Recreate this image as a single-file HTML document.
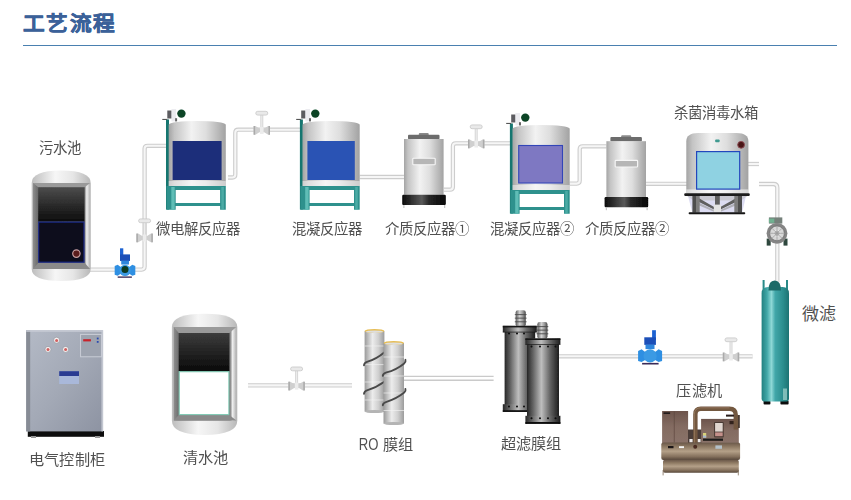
<!DOCTYPE html>
<html lang="zh-CN">
<head>
<meta charset="utf-8">
<title>工艺流程</title>
<style>
html,body{margin:0;padding:0;background:#fff;}
body{width:851px;height:500px;position:relative;overflow:hidden;font-family:"Liberation Sans",sans-serif;}
#title{position:absolute;left:23.4px;top:7.6px;font-size:21.6px;font-weight:bold;color:#3b6199;-webkit-text-stroke:0.55px #3b6199;line-height:32px;white-space:nowrap;letter-spacing:1.1px;transform:scaleY(0.93);transform-origin:0 27px;}
#rule{position:absolute;left:23px;top:44.6px;width:814px;height:1.5px;background:#4a80b0;}
.lb{position:absolute;font-size:14.4px;color:#505050;line-height:18px;white-space:nowrap;transform:translateX(-50%);text-align:center;}
.b2{font-size:15.2px;letter-spacing:0.3px;}
.ro{display:inline-block;font-size:16.4px;letter-spacing:0;transform:scaleX(0.8);transform-origin:0 50%;width:19.4px;margin-right:0px;}
svg{position:absolute;left:0;top:0;}
</style>
</head>
<body>
<div id="title">工艺流程</div>
<div id="rule"></div>
<svg id="art" width="851" height="500" viewBox="0 0 851 500">
<defs>
<linearGradient id="metal" x1="0" x2="1" y1="0" y2="0">
<stop offset="0" stop-color="#9c9c9c"/><stop offset="0.12" stop-color="#c9c9c9"/><stop offset="0.42" stop-color="#f4f4f4"/><stop offset="0.62" stop-color="#e2e2e2"/><stop offset="1" stop-color="#9a9a9a"/>
</linearGradient>
<linearGradient id="blk" x1="0" x2="0" y1="0" y2="1">
<stop offset="0" stop-color="#4c4c4c"/><stop offset="1" stop-color="#0c0c0c"/>
</linearGradient>
<filter id="soft" x="-5%" y="-5%" width="110%" height="110%"><feGaussianBlur stdDeviation="0.45"/></filter>

<linearGradient id="metalV" x1="0" x2="1" y1="0" y2="0">
<stop offset="0" stop-color="#a4a4a4"/><stop offset="0.1" stop-color="#c4c4c4"/><stop offset="0.4" stop-color="#f2f2f2"/><stop offset="0.65" stop-color="#dedede"/><stop offset="1" stop-color="#a2a2a2"/>
</linearGradient>
<linearGradient id="domeG" x1="0" x2="1" y1="0" y2="0">
<stop offset="0" stop-color="#bdbdbd"/><stop offset="0.4" stop-color="#f6f6f6"/><stop offset="0.7" stop-color="#e6e6e6"/><stop offset="1" stop-color="#b8b8b8"/>
</linearGradient>
<linearGradient id="frameG" x1="0" x2="1" y1="0" y2="0">
<stop offset="0" stop-color="#8e8e8e"/><stop offset="0.08" stop-color="#6e6e6e"/><stop offset="0.9" stop-color="#7a7a7a"/><stop offset="0.94" stop-color="#f0f0f0"/><stop offset="1" stop-color="#b0b0b0"/>
</linearGradient>
<linearGradient id="blk2" x1="0" x2="0" y1="0" y2="1">
<stop offset="0" stop-color="#3c3c3c"/><stop offset="1" stop-color="#0a0a0a"/>
</linearGradient>
<linearGradient id="baseBlk" x1="0" x2="1" y1="0" y2="0">
<stop offset="0" stop-color="#0a0a0a"/><stop offset="0.45" stop-color="#5a5a5a"/><stop offset="0.6" stop-color="#2a2a2a"/><stop offset="1" stop-color="#050505"/>
</linearGradient>
<linearGradient id="tealG" x1="0" x2="1" y1="0" y2="0">
<stop offset="0" stop-color="#238080"/><stop offset="0.2" stop-color="#42a8a8"/><stop offset="0.36" stop-color="#8ed8d6"/><stop offset="0.5" stop-color="#40a6a8"/><stop offset="0.8" stop-color="#2a8c8c"/><stop offset="1" stop-color="#1c7272"/>
</linearGradient>
<linearGradient id="ufG" x1="0" x2="1" y1="0" y2="0">
<stop offset="0" stop-color="#262626"/><stop offset="0.18" stop-color="#606060"/><stop offset="0.45" stop-color="#bebebe"/><stop offset="0.7" stop-color="#6a6a6a"/><stop offset="1" stop-color="#1c1c1c"/>
</linearGradient>
<linearGradient id="boxG" x1="0" x2="0" y1="0" y2="1">
<stop offset="0" stop-color="#6c544c"/><stop offset="0.5" stop-color="#846c62"/><stop offset="1" stop-color="#8a7268"/>
</linearGradient>
<linearGradient id="nozG" x1="0" x2="1" y1="0" y2="0">
<stop offset="0" stop-color="#5a5a5a"/><stop offset="0.4" stop-color="#d4d4d4"/><stop offset="0.7" stop-color="#9a9a9a"/><stop offset="1" stop-color="#4a4a4a"/>
</linearGradient>
<linearGradient id="roG" x1="0" x2="1" y1="0" y2="0">
<stop offset="0" stop-color="#9a9a9a"/><stop offset="0.4" stop-color="#ececec"/><stop offset="0.7" stop-color="#cfcfcf"/><stop offset="1" stop-color="#9c9c9c"/>
</linearGradient>
<linearGradient id="cabG" x1="0" x2="1" y1="0" y2="1">
<stop offset="0" stop-color="#b4bac6"/><stop offset="0.5" stop-color="#a3a9b6"/><stop offset="1" stop-color="#8d93a2"/>
</linearGradient>
<linearGradient id="brownV" x1="0" x2="0" y1="0" y2="1">
<stop offset="0" stop-color="#6a584a"/><stop offset="0.22" stop-color="#8c7862"/><stop offset="0.5" stop-color="#b4a088"/><stop offset="0.8" stop-color="#85715d"/><stop offset="1" stop-color="#57473a"/>
</linearGradient>
<g id="reactor">
<!-- origin = body left/top centre line: body x 0..57.5, top y 0 -->
<rect x="-2.3" y="-1.5" width="3" height="90" fill="#17766f"/>
<path d="M0.4,3.8 A28.55,3.8 0 0 1 57.5,3.8 V65 H0.4 Z" fill="url(#metalV)"/>
<rect x="0.4" y="60" width="57.1" height="5" fill="#f8f8f8" opacity="0.5"/>
<!-- legs -->
<path d="M-1.8,65 H57.5 V88.8 H51.8 V85 H7.4 V88.8 H-1.8 Z M7.4,69 V81.9 H51.8 V69 Z" fill="#2f918d" fill-rule="evenodd"/>
<rect x="3" y="66" width="3.4" height="22.8" fill="#5fbdb6"/>
<rect x="53" y="66" width="2.6" height="22.8" fill="#5fbdb6" opacity="0.6"/>
<!-- motor -->
<rect x="-1" y="-10.5" width="4.4" height="8" fill="#5c5c60"/><rect x="3.2" y="-12" width="4.6" height="12.4" fill="#ececf0"/><rect x="6.8" y="-2.8" width="2" height="3.2" fill="#666"/>

<rect x="-6" y="-2.1" width="5" height="1.1" fill="#555"/>

<circle cx="13.1" cy="-7.4" r="4.2" fill="#0d4526"/>
</g>
<g id="media">
<!-- origin = body left/top : body 0..39.6 wide, 0..55.8 tall -->
<rect x="14.8" y="-6" width="9.9" height="3" rx="1" fill="#8a8a8a"/>
<rect x="4" y="-4.2" width="31.5" height="4.4" rx="1" fill="#6c6c6c"/>
<rect x="0" y="0" width="39.6" height="55.8" fill="url(#metalV)"/>
<rect x="8.8" y="19.2" width="22.4" height="6.6" rx="0.8" fill="#b6b6b6" stroke="#f6f6f6" stroke-width="1.1"/>
<rect x="-1.8" y="55.8" width="43.6" height="10.2" rx="1.2" fill="url(#baseBlk)"/>
<rect x="-0.6" y="66" width="1" height="3" fill="#bbb"/><rect x="40.2" y="66" width="1" height="3" fill="#bbb"/>
</g>
<g id="bluev">
<!-- origin = body circle centre -->
<rect x="2" y="-25.7" width="3.8" height="10" fill="#1d62d2"/>
<rect x="-5.8" y="-18.6" width="11.6" height="7.6" fill="#1a50b8"/>
<rect x="-4.6" y="-11.2" width="9" height="4.4" fill="#2f86dd"/>
<path d="M-12,-5 L-8.5,-6.6 L-5,-4 H5 L8.5,-6.6 L12,-5 V5 L8.5,6.2 L5,4 H-5 L-8.5,6.2 L-12,5 Z" fill="#2f8fe2"/>
<circle cx="0" cy="0" r="6.6" fill="#3a9ae4"/>
<rect x="-8" y="7" width="16.5" height="1.6" fill="#3a2c58"/>
</g>
<g id="valve">
<rect x="-1.5" y="-14.6" width="3" height="16.6" fill="#d6d6d6"/>
<rect x="-0.5" y="-14.6" width="1" height="16.6" fill="#efefef"/>
<rect x="-6" y="-18.4" width="12" height="3.8" rx="1.9" fill="#e9e9e9" stroke="#c8c8c8" stroke-width="0.8"/>
<path d="M-8.2,-3.7 L-6.4,-3.7 L-2.4,-1.3 L2.4,-1.3 L6.4,-3.7 L8.2,-3.7 L8.2,5 L6.4,5 L2.4,2.6 L-2.4,2.6 L-6.4,5 L-8.2,5 Z" fill="#cfcfcf"/>
<rect x="-8.2" y="-3.7" width="1.5" height="8.7" fill="#aaaaaa"/><rect x="6.7" y="-3.7" width="1.5" height="8.7" fill="#aaaaaa"/>
<rect x="-1.8" y="-2.8" width="3.6" height="7" fill="#ececec"/>
</g>
</defs>
<g id="pipes" fill="none" stroke-linejoin="round" stroke-linecap="butt">
<g id="pipeOuter" stroke="#cdcdcd" stroke-width="4.3">
<path id="pp1" d="M90,269.6 H141.6 Q144.6,269.6 144.6,266.6 V148.8 Q144.6,145.8 147.6,145.8 H166.5"/>
<path id="pp2" d="M228,177.5 H232.3 Q235.3,177.5 235.3,174.5 V132.7 Q235.3,129.7 238.3,129.7 H300.5"/>
<path id="pp3" d="M359.5,177 H404"/>
<path id="pp4" d="M444,189.7 H449.9 Q452.9,189.7 452.9,186.7 V146.3 Q452.9,143.3 455.9,143.3 H512"/>
<path id="pp5" d="M569.5,183.6 H576.7 Q579.7,183.6 579.7,180.6 V149.3 Q579.7,146.3 582.7,146.3 H606.5"/>
<path id="pp6" d="M645.5,183.8 H687"/>
<path id="pp7" d="M748,164 H759"/>
<path id="pp8" d="M759,184 H773.5 Q777.3,184 777.3,187.8 V282"/>
<path id="pp9" d="M558.5,356.3 H752.6"/>
<path id="pp10" d="M248,385.4 H352"/>
</g>
<g id="pipeInner" stroke="#f6f6f6" stroke-width="2.1">
<use href="#pp1"/><use href="#pp2"/><use href="#pp3"/><use href="#pp4"/><use href="#pp5"/><use href="#pp6"/><use href="#pp7"/><use href="#pp8"/><use href="#pp9"/><use href="#pp10"/>
</g>
<g id="pipeDouble" stroke="#cacaca" stroke-width="1.4">
<path d="M404,376.4 H493.6"/><path d="M404,380.3 H493.6"/>
</g>
</g>
<g id="equip" filter="url(#soft)">

<!-- sewage tank -->
<g id="sewage">
<path d="M31.7,183 Q31.7,170.4 61.2,170.4 Q90.7,170.4 90.7,183 V269 Q90.7,281 61.2,281 Q31.7,281 31.7,269 Z" fill="url(#domeG)"/>
<rect x="33" y="183" width="57.2" height="86" fill="url(#frameG)"/>
<path d="M33,183 H90.2 L84.5,187.3 H38.2 Z" fill="#9a9a9a"/>
<path d="M33,269 H90.2 L84.5,262.7 H38.2 Z" fill="#8a8a8a"/>
<rect x="38.2" y="187.3" width="46.3" height="34.3" fill="url(#blk)"/>
<rect x="38.7" y="222.1" width="45.3" height="40.1" fill="#07071f" stroke="#1c2b86" stroke-width="1.2"/>
<circle cx="76.4" cy="253.6" r="3.7" fill="#5a1a1a" stroke="#c8a0a0" stroke-width="1.2"/>
</g>
<!-- clean water tank -->
<g id="clean">
<path d="M171.9,327 Q171.9,313.7 204.6,313.7 Q237.3,313.7 237.3,327 V420.5 Q237.3,434.9 204.6,434.9 Q171.9,434.9 171.9,420.5 Z" fill="url(#domeG)"/>
<rect x="173.7" y="327" width="62.6" height="93.5" fill="url(#frameG)"/>
<path d="M173.7,327 H236.3 L229.4,333 H178.7 Z" fill="#9a9a9a"/>
<path d="M173.7,420.5 H236.3 L229.4,415.1 H178.7 Z" fill="#8a8a8a"/>
<rect x="178.7" y="333" width="50.7" height="38.2" fill="url(#blk2)"/>
<rect x="179.2" y="371.7" width="49.7" height="42.9" fill="#ffffff" stroke="#7fcab4" stroke-width="1.1"/>
</g>
<!-- reactors -->
<use href="#reactor" x="168.3" y="121"/>
<rect x="172.6" y="141" width="49" height="39" fill="#1f2d7a"/>
<use href="#reactor" x="302.2" y="121"/>
<rect x="307.4" y="141" width="47.4" height="39" fill="#2a52b4"/>
<use href="#reactor" x="512.2" y="125"/>
<rect x="518.7" y="145.5" width="43.8" height="37.5" fill="#7e78c2" stroke="#3345b8" stroke-width="1.1"/>
<!-- media reactors -->
<use href="#media" x="404" y="139"/>
<use href="#media" x="606.4" y="141.2"/>
<!-- pump at sewage -->
<g transform="translate(125,270.4) scale(-0.86,0.86)"><use href="#bluev"/></g>
<circle cx="125" cy="269.6" r="3.5" fill="#0c3a24"/>
<!-- blue valve -->
<use href="#bluev" x="650.1" y="355.9"/>

<!-- sterilization tank -->
<g id="steril">
<path d="M688,196 L746,196 L742,213 L692.4,213 Z" fill="#dcdcf2"/>
<path d="M686.5,195.5 H748 L741,200.5 H693.5 Z" fill="#c9c9d2"/>
<path d="M696,196.5 L714.5,207.2 L714.5,209.8 L696,200.6 Z" fill="#5e5e5e"/>
<path d="M739,196.5 L720,207.2 L720,209.8 L739,200.6 Z" fill="#5e5e5e"/>
<path d="M698,202.2 L714.5,210.2 V212 L698,205 Z" fill="#b0b0b8"/>
<path d="M737,202.2 L720,210.2 V212 L737,205 Z" fill="#b0b0b8"/>
<rect x="692.4" y="195.6" width="3.6" height="17" fill="#4e4e4e"/><rect x="696" y="195.6" width="3.7" height="17" fill="#7c7c7c"/>
<rect x="734.3" y="195.6" width="3.7" height="17" fill="#7c7c7c"/><rect x="738" y="195.6" width="4" height="17" fill="#4e4e4e"/>
<rect x="715" y="195.6" width="4.8" height="9.4" fill="#606060"/>
<rect x="713.8" y="204.6" width="7.2" height="7.6" fill="#e4e4e4"/>
<rect x="688.7" y="212.2" width="56.5" height="2" rx="0.8" fill="#161616"/>
<path d="M686.3,141.5 Q686.3,133 698,133 H736.7 Q748.4,133 748.4,141.5 V193.5 H686.3 Z" fill="url(#metalV)"/>
<rect x="686.3" y="189.4" width="62.1" height="3.8" fill="#ffffff" opacity="0.55"/>
<rect x="684.2" y="193.3" width="65.6" height="2.6" rx="1.2" fill="#1e1e1e"/>
<rect x="696.6" y="151.6" width="43.1" height="37.5" fill="#8fd2e2" stroke="#2346bd" stroke-width="1.2"/>
<rect x="715.2" y="139.4" width="4.4" height="2.8" rx="0.8" fill="#3f9a90"/>
<circle cx="741.1" cy="144.8" r="3.4" fill="#4a1418" stroke="#8a4a50" stroke-width="1"/>
</g>
<!-- gray pump -->
<g id="gpump">
<rect x="768.9" y="217.4" width="13.4" height="6.2" fill="#74807a"/>
<rect x="768.9" y="218.6" width="5.4" height="4.2" fill="#6fb090"/>
<rect x="766.7" y="238.6" width="4" height="7" fill="#2f463c"/>
<rect x="783.5" y="238.6" width="4" height="7" fill="#2f463c"/>
<circle cx="777" cy="233.3" r="10.4" fill="#858585"/>
<circle cx="777" cy="233.3" r="7.4" fill="#d8d8d8" stroke="#6e6e6e" stroke-width="0.8"/>
<circle cx="777" cy="233.3" r="3.2" fill="#b8b8b8" stroke="#f2f2f2" stroke-width="0.8"/>
<path d="M777,226 V240.6 M769.7,233.3 H784.3 M771.8,228.1 L782.2,238.5 M782.2,228.1 L771.8,238.5" stroke="#9a9a9a" stroke-width="0.7"/>
</g>
<!-- micro filter column -->
<g id="mf">
<rect x="762.6" y="280" width="2" height="12" fill="#2a8a88"/><rect x="786" y="280" width="2" height="12" fill="#2a8a88"/>
<rect x="763.6" y="400.6" width="6.8" height="4" rx="0.8" fill="#101010"/><rect x="780.4" y="400.6" width="8.2" height="4" rx="0.8" fill="#101010"/>
<path d="M761.6,293.5 Q761.6,287 768,287 H782.6 Q789,287 789,293.5 V398.5 Q789,401.6 785.8,401.6 H764.8 Q761.6,401.6 761.6,398.5 Z" fill="url(#tealG)"/>
<path d="M768.4,290.6 Q768.4,280.4 774.7,280.4 Q781,280.4 781,290.6 Z" fill="#1d6a68"/>
<rect x="783" y="388.5" width="4" height="11.5" fill="#9ccfc8" opacity="0.75"/>
</g>
<!-- UF -->
<g id="uf">
<g>
<rect x="515.6" y="310.2" width="10.2" height="16.4" rx="2.4" fill="url(#nozG)"/>
<rect x="514.8" y="314" width="11.8" height="1.1" fill="#4a4a4a" opacity="0.8"/><rect x="514.8" y="317.6" width="11.8" height="1.1" fill="#4a4a4a" opacity="0.8"/><rect x="514.8" y="321.2" width="11.8" height="1.1" fill="#4a4a4a" opacity="0.8"/>
<rect x="504.6" y="327" width="30.6" height="84" fill="url(#ufG)"/>
<rect x="502.8" y="325.8" width="34" height="6.4" fill="url(#ufG)"/><rect x="502.8" y="325.8" width="34" height="1.6" fill="#161616"/>
<rect x="502.8" y="331.6" width="34" height="1" fill="#1a1a1a" opacity="0.7"/>
<rect x="502.8" y="404.2" width="34" height="7.6" fill="url(#ufG)"/><rect x="502.8" y="410.2" width="34" height="1.8" fill="#121212"/>
<g fill="#0a0a0a"><circle cx="509" cy="333.6" r="1"/><circle cx="517" cy="333.6" r="1"/><circle cx="524" cy="333.6" r="1"/><circle cx="509" cy="406.4" r="1"/><circle cx="517" cy="406.4" r="1"/><circle cx="524" cy="406.4" r="1"/></g>
</g>
<g>
<rect x="537.3" y="322" width="10.2" height="17" rx="2.4" fill="url(#nozG)"/>
<rect x="536.5" y="326" width="11.8" height="1.1" fill="#4a4a4a" opacity="0.8"/><rect x="536.5" y="329.6" width="11.8" height="1.1" fill="#4a4a4a" opacity="0.8"/><rect x="536.5" y="333.2" width="11.8" height="1.1" fill="#4a4a4a" opacity="0.8"/>
<rect x="527" y="340" width="32" height="83" fill="url(#ufG)"/>
<rect x="525.4" y="338.4" width="35" height="6" fill="url(#ufG)"/><rect x="525.4" y="338.4" width="35" height="1.6" fill="#141414"/>
<rect x="525.4" y="344" width="35" height="1" fill="#1a1a1a" opacity="0.7"/>
<rect x="525.4" y="415.8" width="35" height="8" fill="url(#ufG)"/><rect x="525.4" y="422" width="35" height="1.9" fill="#101010"/>
<g fill="#0a0a0a"><circle cx="531.5" cy="346.4" r="1"/><circle cx="540" cy="346.4" r="1"/><circle cx="548" cy="346.4" r="1"/><circle cx="555.5" cy="346.4" r="1"/><circle cx="531.5" cy="418.2" r="1"/><circle cx="540" cy="418.2" r="1"/><circle cx="548" cy="418.2" r="1"/><circle cx="555.5" cy="418.2" r="1"/></g>
</g>
</g>
<!-- RO -->
<g id="ro">
<g>
<rect x="364.6" y="331" width="19.8" height="80.5" fill="url(#roG)"/>
<ellipse cx="374.5" cy="331" rx="9.9" ry="2.1" fill="#e6bd55"/><ellipse cx="374.5" cy="331.7" rx="8.6" ry="1.3" fill="#dedede"/>
<ellipse cx="374.5" cy="411.5" rx="9.9" ry="1.6" fill="#b4b4b4"/>
<path d="M364.6,346 H384.4 M364.6,364.6 H384.4 M364.6,382 H384.4 M364.6,400 H384.4" stroke="#f4f4f4" stroke-width="0.8" opacity="0.8"/>
<path d="M364,365.2 Q364.2,362.6 367.6,361.6 Q376,359.2 384.2,352.4" stroke="#4a4a4a" stroke-width="1.9" fill="none" stroke-linecap="round"/>
<path d="M364,393.8 Q364.2,391.2 367.6,390.2 Q376,387.8 384.2,381.8" stroke="#4a4a4a" stroke-width="1.9" fill="none" stroke-linecap="round"/>
</g>
<g>
<rect x="383.5" y="343" width="20.5" height="80.5" fill="url(#roG)"/>
<ellipse cx="393.75" cy="343" rx="10.25" ry="2.1" fill="#e6bd55"/><ellipse cx="393.75" cy="343.7" rx="8.9" ry="1.3" fill="#dedede"/>
<ellipse cx="393.75" cy="423.5" rx="10.25" ry="1.6" fill="#b4b4b4"/>
<path d="M383.5,357 H404 M383.5,376 H404 M383.5,393 H404 M383.5,410.5 H404" stroke="#f4f4f4" stroke-width="0.8" opacity="0.8"/>
<path d="M382.8,375.8 Q383,373.4 386.5,372.4 Q396,370 404.2,363.4 Q406,361.8 405.4,359.8" stroke="#4a4a4a" stroke-width="1.9" fill="none" stroke-linecap="round"/>
<path d="M382.8,405.2 Q383,402.8 386.5,401.8 Q396,399.2 404.2,392.6 Q406,391 405.4,389" stroke="#4a4a4a" stroke-width="1.9" fill="none" stroke-linecap="round"/>
</g>
</g>
<!-- cabinet -->
<g id="cab">
<rect x="27.8" y="431" width="76.2" height="5.8" fill="#0e0e0e"/>
<rect x="31" y="436" width="5" height="2" fill="#999"/><rect x="95" y="436" width="5" height="2" fill="#999"/>
<rect x="26.2" y="330.2" width="76.8" height="101.2" fill="url(#cabG)"/>
<rect x="26.2" y="330.2" width="4" height="101.2" fill="#878c95"/>
<rect x="101.4" y="330.2" width="1.8" height="101.2" fill="#c2c6d0"/>
<rect x="26.2" y="330.2" width="76.8" height="1.6" fill="#c6cad4"/>
<rect x="80.6" y="334.4" width="20.8" height="22.4" fill="#9da3af" stroke="#cdd1da" stroke-width="0.9"/>
<rect x="83.2" y="339.2" width="7.7" height="2.2" fill="#c8202a"/>
<rect x="96.8" y="337.6" width="1.8" height="1.8" fill="#2a4ab0"/><rect x="96.8" y="341" width="1.8" height="1.8" fill="#2a4ab0"/>
<g fill="#f4f0f0" stroke="#8a8e98" stroke-width="0.6"><circle cx="56.6" cy="340.2" r="3"/><circle cx="48" cy="349.4" r="3"/><circle cx="65.6" cy="349.4" r="3"/></g><g fill="#d06060"><circle cx="56.6" cy="340.4" r="1.5"/><circle cx="48" cy="349.6" r="1.5"/><circle cx="65.6" cy="349.6" r="1.5"/></g>
<rect x="59.2" y="371.2" width="19.8" height="12.8" fill="#a9b8da"/>
<rect x="59.2" y="371.2" width="19.8" height="4.8" fill="#2a3a92"/>
</g>
<!-- filter press -->
<g id="fp">
<rect x="662.6" y="470" width="1" height="5.4" fill="#9a8a7a"/><rect x="737.8" y="470" width="1" height="5.4" fill="#9a8a7a"/>
<rect x="662.1" y="411" width="26" height="32" fill="url(#boxG)"/>
<rect x="673.8" y="411.6" width="0.9" height="31" fill="#5a443c" opacity="0.7"/>
<rect x="663.5" y="412.4" width="6.6" height="1.5" fill="#1a1414"/>
<rect x="688" y="429.5" width="14" height="13.5" fill="#4c3e38"/>
<rect x="689.4" y="439" width="3.2" height="3.4" fill="#f0ecec"/><rect x="697.4" y="439" width="3.2" height="3.4" fill="#f0ecec"/>
<rect x="701.1" y="418.9" width="37.7" height="24" fill="url(#boxG)"/>
<rect x="703" y="433" width="3.2" height="4.6" fill="#d8d27a"/><rect x="703" y="435.6" width="3.2" height="2" fill="#a8b8d8"/>
<rect x="714.1" y="422" width="9.6" height="15.6" rx="0.8" fill="#4a3a34"/>
<rect x="715.1" y="423" width="7.6" height="8.6" fill="#e0d6d0"/>
<rect x="715.1" y="432.4" width="7.6" height="3.8" fill="#c4908a"/>
<rect x="729.5" y="421" width="5.6" height="3.2" fill="#33241f"/>
<rect x="703" y="438.6" width="20" height="2.2" fill="#1c1a1a"/>
<path d="M695.4,444 V414.2 Q695.4,408.8 700.8,408.8 H729.4 Q735.8,408.8 735.8,415.2 V429.5" stroke="#735840" stroke-width="4.4" fill="none"/>
<path d="M694.4,444 V414.2 Q694.4,407.8 700.8,407.8 H729.4" stroke="#9a7c60" stroke-width="1" fill="none" opacity="0.8"/>
<rect x="726" y="414.6" width="8" height="2" fill="#2a1e1a"/>
<rect x="738" y="415" width="1.8" height="13" fill="#4a3a30"/>
<rect x="661.3" y="442.6" width="78.8" height="17.4" rx="2" fill="url(#brownV)"/>
<rect x="663" y="459.8" width="75.8" height="13" rx="2" fill="url(#brownV)"/>
<rect x="668" y="446" width="5.5" height="2.2" fill="#1a1414"/><rect x="679" y="446.2" width="5" height="1.9" fill="#f4f4f4"/>
<circle cx="695.2" cy="446.8" r="2" fill="#4a2a20"/>
<rect x="715.4" y="445.4" width="6.6" height="3.4" fill="#b4c0c8"/>
</g>
<g id="valves">
<use href="#valve" x="144.6" y="237.3"/>
<use href="#valve" x="261.8" y="129.7"/>
<use href="#valve" x="476.2" y="143.3"/>
<use href="#valve" x="296.6" y="385.4"/>
<use href="#valve" x="731" y="356.3"/>
</g>
</g>
</svg>
<div id="labels">
<div class="lb" style="left:59.8px;top:138.5px;">污水池</div>
<div class="lb" style="left:198.3px;top:219.8px;">微电解反应器</div>
<div class="lb" style="left:326.8px;top:219.8px;">混凝反应器</div>
<div class="lb" style="left:426.6px;top:219.8px;">介质反应器①</div>
<div class="lb" style="left:531.6px;top:219.8px;">混凝反应器②</div>
<div class="lb" style="left:627.3px;top:219.8px;">介质反应器②</div>
<div class="lb" style="left:716.4px;top:103.8px;">杀菌消毒水箱</div>
<div class="lb" style="left:819.4px;top:305.6px;font-size:17px;">微滤</div>
<div class="lb b2" style="left:699.4px;top:382.2px;">压滤机</div>
<div class="lb b2" style="left:531.2px;top:434.6px;">超滤膜组</div>
<div class="lb b2" style="left:386.2px;top:434.6px;"><span class="ro">RO</span> 膜组</div>
<div class="lb b2" style="left:205.7px;top:449px;">清水池</div>
<div class="lb b2" style="left:67.1px;top:450.6px;">电气控制柜</div>
</div>
</body>
</html>
